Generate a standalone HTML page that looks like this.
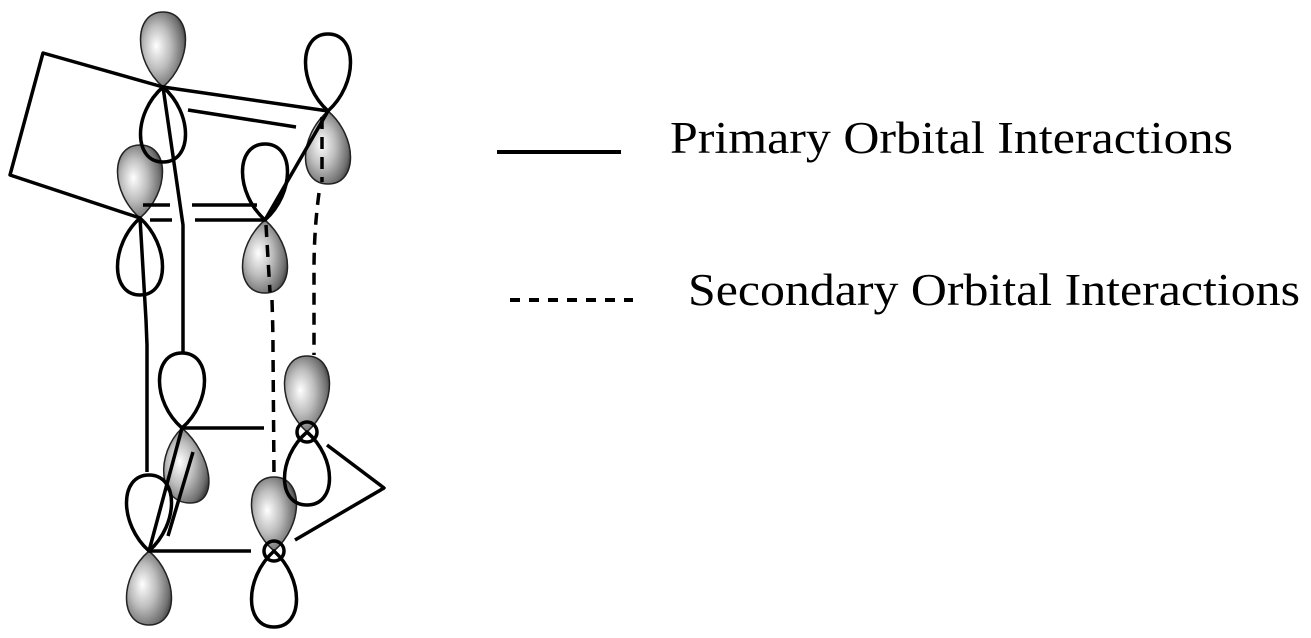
<!DOCTYPE html>
<html><head><meta charset="utf-8"><style>
html,body{margin:0;padding:0;background:#fff;}
svg{display:block;}
</style></head><body>
<svg width="1311" height="638" viewBox="0 0 1311 638" xmlns="http://www.w3.org/2000/svg">
<defs>
<radialGradient id="g" cx="0.4" cy="0.5" r="0.65" fx="0.35" fy="0.45">
<stop offset="0" stop-color="#ffffff"/>
<stop offset="0.45" stop-color="#bdbdbd"/>
<stop offset="0.85" stop-color="#6e6e6e"/>
<stop offset="1" stop-color="#3a3a3a"/>
</radialGradient>
</defs>
<g fill="url(#g)" stroke="#222" stroke-width="1.5">
<path d="M163,87 C133,61 133,12 163,12 C193,12 193,61 163,87Z"/>
<path d="M140,218 C110,192 110,145 140,145 C170,145 170,192 140,218Z"/>
<path d="M328,111 C298,137 298,184 328,184 C358,184 358,137 328,111Z"/>
<path d="M265,220 C235,246 235,293 265,293 C295,293 295,246 265,220Z"/>
<path d="M182,428 C155,454 158,503 190,503 C220,503 212,454 182,428Z"/>
<path d="M149,551 C119,577 119,625 149,625 C179,625 179,577 149,551Z"/>
<path d="M307,432 C277,405 277,356 307,356 C337,356 337,405 307,432Z"/>
<path d="M274,551 C244,525 244,477 274,477 C304,477 304,525 274,551Z"/>
</g>
<g stroke="#000" stroke-width="3.5" fill="none" stroke-linejoin="round" stroke-linecap="butt">
<path d="M163,87 C133,113 133,162 163,162 C193,162 193,113 163,87Z"/>
<path d="M140,218 C110,245 110,295 140,295 C170,295 170,245 140,218Z"/>
<path d="M328,111 C298,84 298,34 328,34 C358,34 358,84 328,111Z"/>
<path d="M265,220 C235,193 235,144 265,144 C295,144 295,193 265,220Z"/>
<path d="M182,428 C152,402 152,353 182,353 C212,353 212,402 182,428Z"/>
<path d="M149,551 C119,524 119,475 149,475 C179,475 179,524 149,551Z"/>
<path d="M307,432 C277,458 277,505 307,505 C337,505 337,458 307,432Z"/>
<path d="M274,551 C244,578 244,627 274,627 C304,627 304,578 274,551Z"/>

<polyline points="163,87 43,53 10,175 140,218"/>
<line x1="163" y1="87" x2="328" y2="111"/>
<line x1="188" y1="110" x2="296" y2="127"/>
<line x1="328" y1="111" x2="265" y2="220"/>
<line x1="143" y1="205" x2="170" y2="205"/>
<line x1="192" y1="205" x2="257" y2="205"/>
<line x1="150" y1="220" x2="172" y2="220"/>
<line x1="195" y1="220" x2="265" y2="220"/>
<polyline points="163,87 183,225 183,352"/>
<polyline points="140,218 146,320 147,345 147,472"/>
<path d="M322,117 L322,182 M319,193 Q314,230 314,270 L314,355" stroke-dasharray="12,8"/>
<path d="M266,225 L270,292 M272,300 Q273,330 273,350 L274,477" stroke-dasharray="12,8"/>
<line x1="149" y1="551" x2="182" y2="428"/>
<line x1="168" y1="536" x2="193" y2="452"/>
<line x1="182" y1="428" x2="264" y2="428"/>
<line x1="149" y1="551" x2="251" y2="551"/>
<polyline points="327,445 384,488 295,540"/>
<circle cx="307" cy="432" r="10"/>
<circle cx="274" cy="551" r="10"/>
<line x1="497" y1="152" x2="621" y2="152" stroke-width="4"/>
<line x1="510" y1="300" x2="633" y2="300" stroke-width="4" stroke-dasharray="10,9"/>
</g>
<g font-family="Liberation Serif, serif" font-size="45" fill="#000">
<text x="670" y="153" textLength="563" lengthAdjust="spacingAndGlyphs">Primary Orbital Interactions</text>
<text x="688" y="305" textLength="612" lengthAdjust="spacingAndGlyphs">Secondary Orbital Interactions</text>
</g>
</svg>
</body></html>
